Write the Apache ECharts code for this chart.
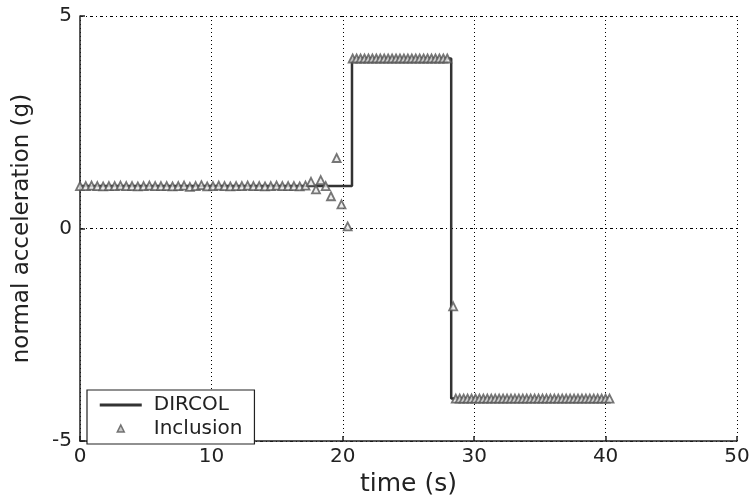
<!DOCTYPE html>
<html>
<head>
<meta charset="utf-8">
<script src="https://cdn.jsdelivr.net/npm/echarts@6/dist/echarts.min.js"></script>
<style>
html,body{margin:0;padding:0;background:#fff;}
#c{width:756px;height:502px;}
</style>
</head>
<body>
<div id="c"></div>
<script>
// DIRCOL solution (step profile)
const dircolTime = [0, 20.7, 20.7, 28.25, 28.25, 40.2];
const dircolAcc  = [1, 1, 4, 4, -4, -4];

// Inclusion solution nodes
const inclTime = [
  0, 0.44, 0.88, 1.32, 1.76, 2.2, 2.64, 3.08, 3.52, 3.96,
  4.4, 4.84, 5.28, 5.72, 6.16, 6.6, 7.04, 7.48, 7.92, 8.36,
  8.8, 9.24, 9.68, 10.12, 10.56, 11.0, 11.44, 11.88, 12.32, 12.76,
  13.2, 13.64, 14.08, 14.52, 14.96, 15.4, 15.84, 16.28, 16.72, 17.16,
  17.58, 17.96, 18.32, 18.7, 19.1, 19.53, 19.9, 20.37,
  20.75, 21.05, 21.35, 21.65, 21.95, 22.25, 22.55, 22.85, 23.15, 23.45,
  23.75, 24.05, 24.35, 24.65, 24.95, 25.25, 25.55, 25.85, 26.15, 26.45,
  26.75, 27.05, 27.35, 27.65, 27.95,
  28.4,
  28.6, 28.9, 29.2, 29.5, 29.8, 30.1, 30.4, 30.7, 31.0, 31.3,
  31.6, 31.9, 32.2, 32.5, 32.8, 33.1, 33.4, 33.7, 34.0, 34.3,
  34.6, 34.9, 35.2, 35.5, 35.8, 36.1, 36.4, 36.7, 37.0, 37.3,
  37.6, 37.9, 38.2, 38.5, 38.8, 39.1, 39.4, 39.7, 40.0, 40.3
];
const inclAcc = [
  1.0, 1.0, 1.01, 1.0, 0.99, 1.0, 1.0, 1.01, 1.0, 1.0,
  0.99, 1.0, 1.01, 1.0, 1.0, 1.0, 0.99, 1.0, 1.01, 0.98,
  1.0, 1.02, 0.99, 1.0, 1.01, 1.0, 0.99, 1.0, 1.0, 1.01,
  1.0, 1.0, 0.99, 1.0, 1.01, 1.0, 1.0, 1.0, 0.99, 1.01,
  1.10, 0.92, 1.14, 1.0, 0.76, 1.66, 0.57, 0.05,
  4.0, 4.0, 4.0, 4.0, 4.0, 4.0, 4.0, 4.0, 4.0, 4.0,
  4.0, 4.0, 4.0, 4.0, 4.0, 4.0, 4.0, 4.0, 4.0, 4.0,
  4.0, 4.0, 4.0, 4.0, 4.0,
  -1.83,
  -4.0, -4.0, -4.0, -4.0, -4.0, -4.0, -4.0, -4.0, -4.0, -4.0,
  -4.0, -4.0, -4.0, -4.0, -4.0, -4.0, -4.0, -4.0, -4.0, -4.0,
  -4.0, -4.0, -4.0, -4.0, -4.0, -4.0, -4.0, -4.0, -4.0, -4.0,
  -4.0, -4.0, -4.0, -4.0, -4.0, -4.0, -4.0, -4.0, -4.0, -4.0
];

const xTicks = [0, 10, 20, 30, 40, 50];
const yTicks = [-5, 0, 5];

const FONT = 'DejaVu Sans';
const chart = echarts.init(document.getElementById('c'), null, {renderer: 'canvas'});

chart.setOption({
  backgroundColor: '#ffffff',
  animation: false,
  grid: {left: 80, right: 19, top: 16, bottom: 57, containLabel: false},
  xAxis: {
    type: 'value', min: xTicks[0], max: xTicks[xTicks.length - 1], interval: 10,
    name: 'time (s)', nameLocation: 'middle', nameGap: 28,
    nameTextStyle: {fontFamily: FONT, fontSize: 25, color: '#222'},
    axisLine: {show: true, onZero: false, lineStyle: {color: '#222', width: 1.5}},
    axisTick: {show: true, inside: true, length: 5, lineStyle: {color: '#222', width: 1.5}},
    axisLabel: {fontFamily: FONT, fontSize: 20, color: '#222', margin: 6},
    splitLine: {show: true, lineStyle: {color: '#000', width: 1, type: [1, 3]}}
  },
  yAxis: {
    type: 'value', min: yTicks[0], max: yTicks[yTicks.length - 1], interval: 5,
    name: 'normal acceleration (g)', nameLocation: 'middle', nameGap: 46,
    nameTextStyle: {fontFamily: FONT, fontSize: 23, color: '#222'},
    axisLine: {show: true, onZero: false, lineStyle: {color: '#222', width: 1.5}},
    axisTick: {show: true, inside: true, length: 5, lineStyle: {color: '#222', width: 1.5}},
    axisLabel: {fontFamily: FONT, fontSize: 20, color: '#222', margin: 8},
    splitLine: {show: true, lineStyle: {color: '#000', width: 1, type: [3, 3, 1, 3]}}
  },
  legend: {
    show: true, orient: 'vertical', left: 87, top: 390,
    padding: [5, 12, 5, 12], itemGap: 4, itemWidth: 42, itemHeight: 14,
    backgroundColor: '#fff', borderColor: '#222', borderWidth: 1.2,
    textStyle: {fontFamily: FONT, fontSize: 20, color: '#222', padding: [0, 0, 0, 7]},
    data: [
      {name: 'DIRCOL', icon: 'path://M0,0 M42,14 M0,5.5 L42,5.5 L42,8.5 L0,8.5 Z', itemStyle: {color: '#333'}},
      {name: 'Inclusion', icon: 'path://M0,0 M42,14 M17.5,10 L21,3 L24.5,10 Z',
       itemStyle: {color: '#bbb', borderColor: '#555', borderWidth: 1.5}}
    ]
  },
  series: [
    {
      name: 'DIRCOL', type: 'line', symbol: 'none',
      data: dircolTime.map((t, i) => [t, dircolAcc[i]]),
      lineStyle: {color: '#333', width: 2.5},
      itemStyle: {color: '#333'},
      z: 2
    },
    {
      name: 'Inclusion', type: 'scatter', symbol: 'triangle', symbolSize: 8,
      data: inclTime.map((t, i) => [t, inclAcc[i]]),
      itemStyle: {color: '#e8e8e8', borderColor: '#555', borderWidth: 1.8},
      z: 3
    }
  ]
});
</script>
</body>
</html>
